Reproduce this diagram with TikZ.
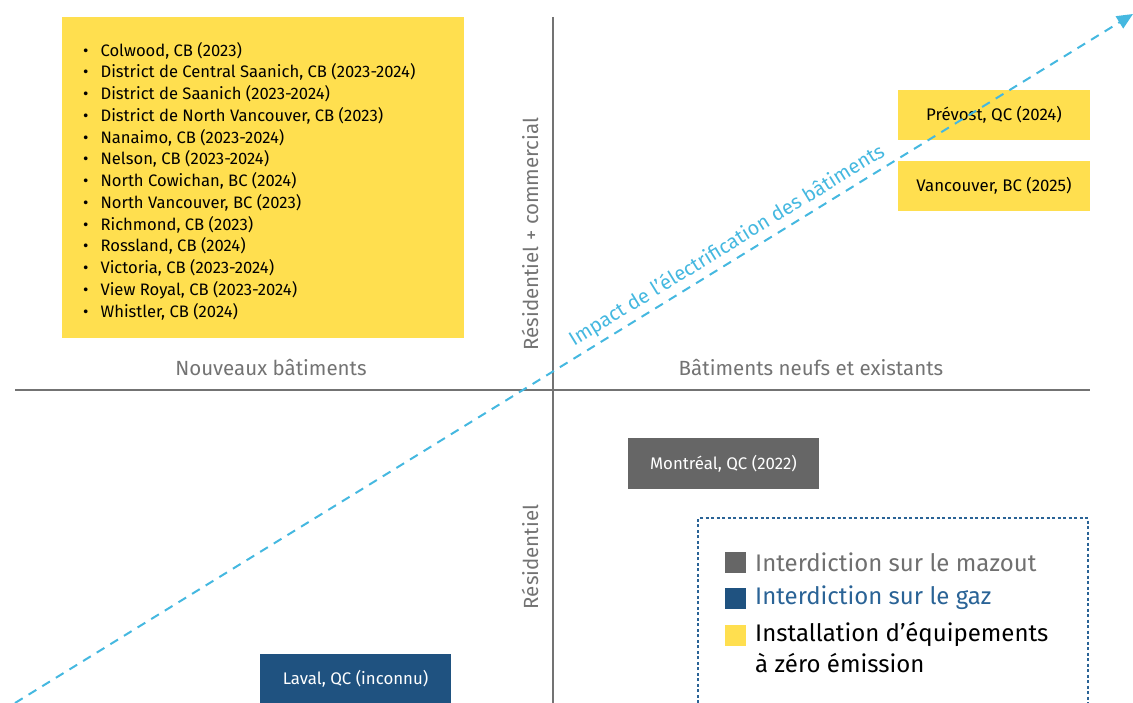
\documentclass[tikz,border=0pt]{standalone}
\usepackage{fontspec}
\setmainfont{Fira Sans}
\usetikzlibrary{arrows.meta}
\definecolor{ylw}{HTML}{FFDF4F}
\definecolor{gbox}{HTML}{666666}
\definecolor{bbox}{HTML}{1F5280}
\definecolor{axisc}{HTML}{737373}
\definecolor{arrc}{HTML}{45B8E0}
\definecolor{legb}{HTML}{2A6396}
\definecolor{legtxtg}{HTML}{707070}
\begin{document}
\begin{tikzpicture}[x=1pt,y=-1pt,
  axis/.style={draw=axisc,line width=1.4pt},
  axlabel/.style={text=axisc,font=\fontsize{20.5}{22}\selectfont},
  citybox/.style={minimum width=192pt,minimum height=50pt,inner sep=0pt,font=\fontsize{16.8}{18}\selectfont},
  legsq/.style={minimum width=21pt,minimum height=21pt,inner sep=0pt},
  legtext/.style={anchor=west,font=\fontsize{24}{31}\selectfont,align=left,inner sep=0pt}]
\useasboundingbox (0,0) rectangle (1133,703);

% yellow list box
\node[fill=ylw,minimum width=402pt,minimum height=321pt,inner sep=0pt,anchor=north west] (list) at (62,17) {};
\node[anchor=north west,align=left,inner sep=0pt,font=\fontsize{16.6}{21.75}\selectfont] (items) at (83,42) {%
\textbullet\hspace{12pt}Colwood, CB (2023)\\
\textbullet\hspace{12pt}District de Central Saanich, CB (2023-2024)\\
\textbullet\hspace{12pt}District de Saanich (2023-2024)\\
\textbullet\hspace{12pt}District de North Vancouver, CB (2023)\\
\textbullet\hspace{12pt}Nanaimo, CB (2023-2024)\\
\textbullet\hspace{12pt}Nelson, CB (2023-2024)\\
\textbullet\hspace{12pt}North Cowichan, BC (2024)\\
\textbullet\hspace{12pt}North Vancouver, BC (2023)\\
\textbullet\hspace{12pt}Richmond, CB (2023)\\
\textbullet\hspace{12pt}Rossland, CB (2024)\\
\textbullet\hspace{12pt}Victoria, CB (2023-2024)\\
\textbullet\hspace{12pt}View Royal, CB (2023-2024)\\
\textbullet\hspace{12pt}Whistler, CB (2024)};

% axes
\coordinate (vtop) at (553,17);
\coordinate (vbot) at (553,703);
\coordinate (hleft) at (15,390);
\coordinate (hright) at (1090,390);
\draw[axis] (vtop) -- (vbot);
\draw[axis] (hleft) -- (hright);

\node[axlabel] (nb) at (271,368) {Nouveaux bâtiments};
\node[axlabel] (ne) at (811,368) {Bâtiments neufs et existants};
\node[axlabel,rotate=90] (rc) at (530,234) {Résidentiel + commercial};
\node[axlabel,rotate=90] (rs) at (530,557) {Résidentiel};

% city boxes
\node[citybox,fill=ylw] (prevost) at (994,115) {Prévost, QC (2024)};
\node[citybox,fill=ylw] (vanc) at (994,186) {Vancouver, BC (2025)};
\node[citybox,fill=gbox,text=white,minimum width=191pt,minimum height=51pt] (mtl) at (723.5,463.5) {Montréal, QC (2022)};
\node[citybox,fill=bbox,text=white,minimum width=191pt] (laval) at (355.5,679) {Laval, QC (inconnu)};

% diagonal arrow
\coordinate (astart) at (15,703);
\coordinate (aend) at (1133,14);
\draw[arrc,line width=2pt,dash pattern=on 9pt off 7pt,-{Triangle[length=16pt,width=14pt]}] (astart) -- (aend);
\node[text=arrc,rotate=31.6,font=\fontsize{20}{22}\selectfont] (impact) at (727,246) {Impact de l’électrification des bâtiments};

% legend
\draw[legb,line width=1.3pt,dash pattern=on 3pt off 2.5pt] (698,703) -- (698,518) -- (1088,518) -- (1088,703);
\node[legsq,fill=gbox] (sq1) at (735,562) {};
\node[legsq,fill=bbox] (sq2) at (735,598) {};
\node[legsq,fill=ylw] (sq3) at (735,635) {};
\node[legtext,text=legtxtg] (l1) at (755,562) {Interdiction sur le mazout};
\node[legtext,text=legb] (l2) at (755,598) {Interdiction sur le gaz};
\node[legtext,anchor=north west] (l3) at (755,622) {Installation d’équipements\\à zéro émission};
\end{tikzpicture}
\end{document}
